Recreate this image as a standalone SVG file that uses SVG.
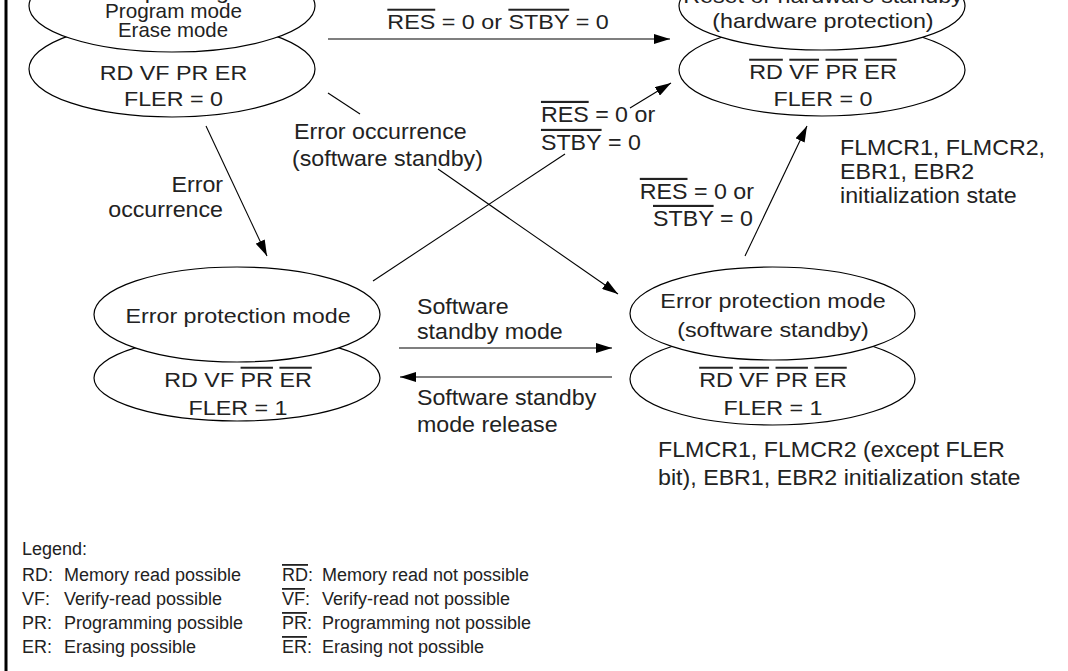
<svg xmlns="http://www.w3.org/2000/svg" width="1068" height="671" viewBox="0 0 1068 671">
<defs>
<marker id="ah" viewBox="0 0 16 10" refX="16" refY="5" markerWidth="16" markerHeight="10" markerUnits="userSpaceOnUse" orient="auto">
<path d="M0,0 L16,5 L0,10 z" fill="#000"/>
</marker>
<style>
text{font-family:"Liberation Sans",Arial,Helvetica,sans-serif;fill:#222}
.n{font-size:20px;text-anchor:middle}
.l{font-size:21.5px}
.e{text-anchor:end}
.g{font-size:18px}
.o{text-decoration:overline}
ellipse{fill:#fff;stroke:#000;stroke-width:1.2}
.c line{stroke:#000;stroke-width:1.1}
</style>
</defs>
<rect width="1068" height="671" fill="#fff"/>
<line x1="6" y1="0" x2="6" y2="671" stroke="#000" stroke-width="3"/>

<g id="node-normal">
<ellipse cx="172" cy="69" rx="143" ry="48"/>
<ellipse cx="172" cy="6" rx="143" ry="46"/>
<g transform="scale(1.165,1)">
<text class="n" x="147.6" y="-1">Normal operating mode</text>
<text class="n" x="148.9" y="18" textLength="117.6" lengthAdjust="spacingAndGlyphs">Program mode</text>
<text class="n" x="148.5" y="37" textLength="94.4" lengthAdjust="spacingAndGlyphs">Erase mode</text>
<text class="n" x="148.9" y="80">RD VF PR ER</text>
<text class="n" x="148.9" y="106">FLER = 0</text>
</g>
</g>

<g id="node-reset">
<ellipse cx="822" cy="70" rx="143" ry="46"/>
<ellipse cx="822" cy="6" rx="143" ry="44"/>
<g transform="scale(1.165,1)">
<text class="n" x="706.4" y="3">Reset or hardware standby</text>
<text class="n" x="706.4" y="28">(hardware protection)</text>
<text class="n" x="706.4" y="79"><tspan class="o">RD</tspan> <tspan class="o">VF</tspan> <tspan class="o">PR</tspan> <tspan class="o">ER</tspan></text>
<text class="n" x="706.4" y="106">FLER = 0</text>
</g>
</g>

<g id="node-error">
<ellipse cx="237" cy="378" rx="143" ry="43"/>
<ellipse cx="237" cy="314.5" rx="143" ry="47.5"/>
<g transform="scale(1.165,1)">
<text class="n" x="204.3" y="323">Error protection mode</text>
<text class="n" x="204.3" y="387">RD VF <tspan class="o">PR</tspan> <tspan class="o">ER</tspan></text>
<text class="n" x="204.3" y="415">FLER = 1</text>
</g>
</g>

<g id="node-error-sw">
<ellipse cx="772.5" cy="379" rx="142.5" ry="46"/>
<ellipse cx="772.5" cy="313.5" rx="142.5" ry="46.5"/>
<g transform="scale(1.165,1)">
<text class="n" x="663.5" y="308">Error protection mode</text>
<text class="n" x="663.5" y="337">(software standby)</text>
<text class="n" x="663.5" y="387"><tspan class="o">RD</tspan> <tspan class="o">VF</tspan> <tspan class="o">PR</tspan> <tspan class="o">ER</tspan></text>
<text class="n" x="663.5" y="415">FLER = 1</text>
</g>
</g>

<g id="connectors" class="c">
<line x1="328" y1="39" x2="670" y2="39" marker-end="url(#ah)"/>
<line x1="328" y1="93" x2="360" y2="114"/>
<line x1="438" y1="169" x2="618" y2="294" marker-end="url(#ah)"/>
<line x1="206" y1="126" x2="267" y2="256" marker-end="url(#ah)"/>
<line x1="373" y1="281" x2="565" y2="154"/>
<line x1="630" y1="108" x2="671" y2="83" marker-end="url(#ah)"/>
<line x1="745" y1="256" x2="807" y2="126" marker-end="url(#ah)"/>
<line x1="399" y1="348" x2="612" y2="348" marker-end="url(#ah)"/>
<line x1="612" y1="377" x2="400" y2="377" marker-end="url(#ah)"/>
</g>

<g id="labels">
<g transform="scale(1.165,1)">
<text class="n" x="427.5" y="29"><tspan class="o">RES</tspan> = 0 or <tspan class="o">STBY</tspan> = 0</text>
</g>
<g transform="scale(1.08,1)">
<text class="l" x="272.2" y="139">Error occurrence</text>
<text class="l" x="270.4" y="166">(software standby)</text>
<text class="l e" x="206.5" y="192">Error</text>
<text class="l e" x="206.5" y="217">occurrence</text>
<text class="l" x="500.9" y="122"><tspan class="o">RES</tspan> = 0 or</text>
<text class="l" x="500.9" y="150"><tspan class="o">STBY</tspan> = 0</text>
<text class="l e" x="698.1" y="199"><tspan class="o">RES</tspan> = 0 or</text>
<text class="l e" x="697.2" y="226"><tspan class="o">STBY</tspan> = 0</text>
<text class="l" x="777.8" y="155">FLMCR1, FLMCR2,</text>
<text class="l" x="777.8" y="179">EBR1, EBR2</text>
<text class="l" x="777.8" y="203">initialization state</text>
<text class="l" x="386.1" y="314">Software</text>
<text class="l" x="386.1" y="339">standby mode</text>
<text class="l" x="386.1" y="405">Software standby</text>
<text class="l" x="386.1" y="432">mode release</text>
<text class="l" x="609.3" y="457">FLMCR1, FLMCR2 (except FLER</text>
<text class="l" x="609.3" y="485">bit), EBR1, EBR2 initialization state</text>
</g>
</g>

<g id="legend">
<text class="g" x="22" y="555">Legend:</text>
<text class="g" x="22" y="581">RD:</text><text class="g" x="64" y="581">Memory read possible</text>
<text class="g" x="22" y="605">VF:</text><text class="g" x="64" y="605">Verify-read possible</text>
<text class="g" x="22" y="629">PR:</text><text class="g" x="64" y="629">Programming possible</text>
<text class="g" x="22" y="653">ER:</text><text class="g" x="64" y="653">Erasing possible</text>
<text class="g" x="282" y="581"><tspan class="o">RD</tspan>:</text><text class="g" x="322" y="581">Memory read not possible</text>
<text class="g" x="282" y="605"><tspan class="o">VF</tspan>:</text><text class="g" x="322" y="605">Verify-read not possible</text>
<text class="g" x="282" y="629"><tspan class="o">PR</tspan>:</text><text class="g" x="322" y="629">Programming not possible</text>
<text class="g" x="282" y="653"><tspan class="o">ER</tspan>:</text><text class="g" x="322" y="653">Erasing not possible</text>
</g>
</svg>
